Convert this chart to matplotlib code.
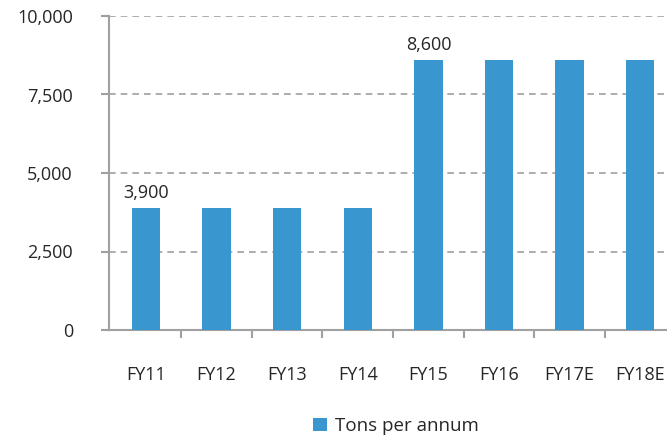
import matplotlib
matplotlib.use("Agg")
import matplotlib.pyplot as plt
from matplotlib.ticker import FuncFormatter, FixedLocator

years = ["FY11", "FY12", "FY13", "FY14", "FY15", "FY16", "FY17E", "FY18E"]
capacity = [3900, 3900, 3900, 3900, 8600, 8600, 8600, 8600]
labelled = {0: 3900, 4: 8600}
y_ticks = [0, 2500, 5000, 7500, 10000]

bar_color = "#3A96CF"
axis_color = "#A0A0A0"
text_color = "#262626"
fs = 13

plt.rcParams["font.family"] = ["Open Sans", "DejaVu Sans"]

fig = plt.figure(figsize=(6.67, 4.38), dpi=100)
ax = fig.add_axes([109 / 667, 1 - 330 / 438, 558 / 667, 314 / 438])

x = list(range(len(years)))
bars = ax.bar(x, capacity, width=0.4, color=bar_color, zorder=3, label="Tons per annum")

for i, v in labelled.items():
    ax.text(i, v + 180, f"{v:,}", ha="center", va="bottom", fontsize=fs, color=text_color)

ax.set_xlim(-0.524, 7.38)
ax.set_ylim(0, 10000)
ax.set_yticks(y_ticks)
ax.yaxis.set_major_formatter(FuncFormatter(lambda v, p: f"{int(v):,}"))
ax.set_xticks(x)
ax.set_xticklabels(years)
ax.xaxis.set_minor_locator(FixedLocator([i + 0.5 for i in range(len(years) - 1)]))

for gy in y_ticks[1:]:
    ax.axhline(gy, color=axis_color, lw=1.2, ls=(0, (4, 3)), zorder=1)

for s in ["top", "right"]:
    ax.spines[s].set_visible(False)
for s in ["left", "bottom"]:
    ax.spines[s].set_color(axis_color)
    ax.spines[s].set_linewidth(1.5)

ax.tick_params(axis="y", length=6, width=1.5, color=axis_color, labelsize=fs,
               labelcolor=text_color, pad=20)
ax.tick_params(axis="x", which="major", length=0, labelsize=fs, labelcolor=text_color, pad=26)
ax.tick_params(axis="x", which="minor", length=6, width=1.5, color=axis_color, direction="out")

fig.legend(handles=[bars], labels=["Tons per annum"], loc="center",
           bbox_to_anchor=(396 / 667, 1 - 426 / 438), frameon=False, fontsize=fs + 0.5,
           handlelength=0.75, handleheight=0.75, handletextpad=0.4, labelcolor=text_color)

fig.savefig("out.png", dpi=100)
